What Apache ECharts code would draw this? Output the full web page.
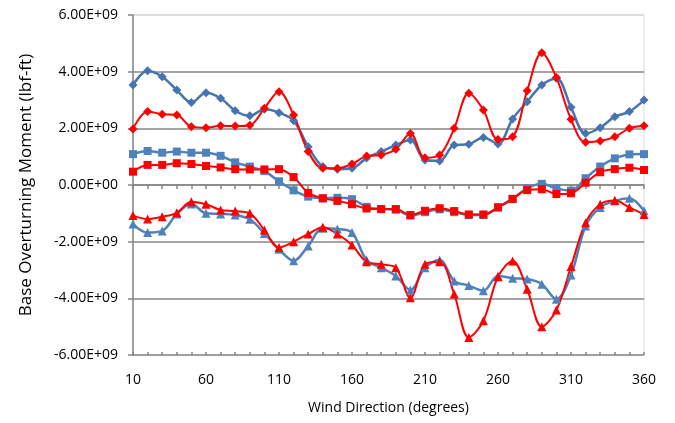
<!DOCTYPE html>
<html>
<head>
<meta charset="utf-8">
<script src="https://cdn.jsdelivr.net/npm/echarts@6/dist/echarts.min.js"></script>
<style>
  html, body { margin: 0; padding: 0; background: #fff; }
  #chart { width: 675px; height: 423px; }
</style>
</head>
<body>
<div id="chart"></div>
<script>
// wind directions (degrees)
var directions = [10, 20, 30, 40, 50, 60, 70, 80, 90, 100, 110, 120, 130, 140, 150, 160, 170, 180,
  190, 200, 210, 220, 230, 240, 250, 260, 270, 280, 290, 300, 310, 320, 330, 340, 350, 360];

// moments in units of 1E+09 lbf-ft
var blueDiamond = [3.53, 4.03, 3.82, 3.35, 2.91, 3.26, 3.06, 2.62, 2.44, 2.67, 2.55, 2.27, 1.35, 0.65, 0.56, 0.59, 0.95, 1.18,
  1.41, 1.59, 0.88, 0.85, 1.41, 1.44, 1.68, 1.45, 2.33, 2.94, 3.53, 3.77, 2.74, 1.82, 2.02, 2.41, 2.59, 3.00];
var redDiamond = [1.98, 2.59, 2.50, 2.47, 2.06, 2.02, 2.09, 2.08, 2.11, 2.71, 3.29, 2.47, 1.18, 0.59, 0.59, 0.74, 1.02, 1.06,
  1.26, 1.82, 0.96, 1.06, 2.00, 3.24, 2.65, 1.61, 1.70, 3.33, 4.67, 3.79, 2.32, 1.51, 1.55, 1.70, 2.00, 2.09];
var blueSquare = [1.09, 1.20, 1.14, 1.18, 1.14, 1.14, 1.03, 0.80, 0.65, 0.49, 0.13, -0.19, -0.41, -0.47, -0.45, -0.50, -0.77, -0.85,
  -0.87, -1.08, -0.96, -0.86, -0.96, -1.06, -1.06, -0.79, -0.49, -0.12, 0.04, -0.12, -0.20, 0.24, 0.65, 0.94, 1.08, 1.09];
var redSquare = [0.47, 0.71, 0.71, 0.77, 0.74, 0.67, 0.62, 0.56, 0.55, 0.55, 0.56, 0.28, -0.28, -0.47, -0.56, -0.68, -0.83, -0.85,
  -0.85, -1.06, -0.91, -0.82, -0.92, -1.04, -1.04, -0.79, -0.49, -0.18, -0.15, -0.32, -0.29, 0.08, 0.45, 0.56, 0.61, 0.53];
var blueTriangle = [-1.38, -1.68, -1.62, -1.02, -0.67, -1.00, -1.02, -1.06, -1.21, -1.71, -2.27, -2.67, -2.15, -1.53, -1.55, -1.68, -2.65, -2.92,
  -3.21, -3.71, -2.92, -2.65, -3.39, -3.55, -3.73, -3.21, -3.29, -3.32, -3.50, -4.03, -3.18, -1.45, -0.79, -0.56, -0.47, -0.91];
var redTriangle = [-1.08, -1.20, -1.12, -0.98, -0.59, -0.68, -0.88, -0.92, -1.00, -1.59, -2.21, -2.00, -1.73, -1.49, -1.73, -2.12, -2.71, -2.80,
  -2.92, -3.98, -2.80, -2.71, -3.85, -5.38, -4.79, -3.24, -2.68, -3.68, -5.00, -4.41, -2.88, -1.33, -0.68, -0.55, -0.79, -1.04];

var FONT = '"Open Sans", "Liberation Sans", sans-serif';

function line(data, color, symbol, size, width) {
  return {
    type: 'line',
    data: data,
    smooth: 0.35,
    symbol: symbol,
    symbolSize: size,
    showSymbol: true,
    lineStyle: { color: color, width: width },
    itemStyle: { color: color, borderWidth: 0 },
    animation: false
  };
}

var myChart = echarts.init(document.getElementById('chart'));
var option = {
  animation: false,
  grid: {
    left: 133, right: 31, top: 15, bottom: 68,
    show: true, borderColor: '#d9d9d9', borderWidth: 1
  },
  xAxis: [{
    type: 'category',
    data: directions,
    boundaryGap: false,
    position: 'bottom',
    name: 'Wind Direction (degrees)',
    nameLocation: 'middle',
    nameGap: 46,
    nameTextStyle: { fontFamily: FONT, fontSize: 14, color: '#000' },
    axisLine: { show: true, lineStyle: { color: '#868686', width: 1.5 } },
    axisTick: { show: true, interval: 0, length: 4, lineStyle: { color: '#868686', width: 1.5 } },
    axisLabel: { interval: 4, margin: 18, fontFamily: FONT, fontSize: 14, color: '#000' },
    splitLine: { show: false }
  }, {
    type: 'category',
    data: directions,
    boundaryGap: false,
    position: 'bottom',
    axisLine: { show: false },
    axisTick: { show: true, inside: true, interval: 0, length: 3, lineStyle: { color: '#868686', width: 1.5 } },
    axisLabel: { show: false },
    splitLine: { show: false }
  }],
  yAxis: {
    type: 'value',
    min: -6,
    max: 6,
    interval: 2,
    name: 'Base Overturning Moment (lbf-ft)',
    nameLocation: 'middle',
    nameGap: 98,
    nameTextStyle: { fontFamily: FONT, fontSize: 17, color: '#000' },
    axisLine: { show: true, lineStyle: { color: '#868686', width: 1.5 } },
    axisTick: { show: true, length: 5, lineStyle: { color: '#868686', width: 1.5 } },
    axisLabel: {
      margin: 15, fontFamily: FONT, fontSize: 14, color: '#000',
      formatter: function (v) { return v === 0 ? '0.00E+00' : v.toFixed(2) + 'E+09'; }
    },
    splitLine: {
      show: true,
      lineStyle: { color: ['#868686', '#868686', '#868686', '#868686', '#868686', '#868686', '#d9d9d9'], width: 1.5 }
    }
  },
  series: [
    line(blueDiamond, '#4674b0', 'diamond', 9, 2.5),
    line(blueSquare, '#4f81bd', 'rect', 8, 2.5),
    line(blueTriangle, '#4f81bd', 'triangle', 9, 2.5),
    line(redDiamond, '#ff0000', 'diamond', 9, 2),
    line(redSquare, '#ff0000', 'rect', 8, 2),
    line(redTriangle, '#ff0000', 'triangle', 9, 2)
  ]
};

myChart.setOption(option);
</script>
</body>
</html>
